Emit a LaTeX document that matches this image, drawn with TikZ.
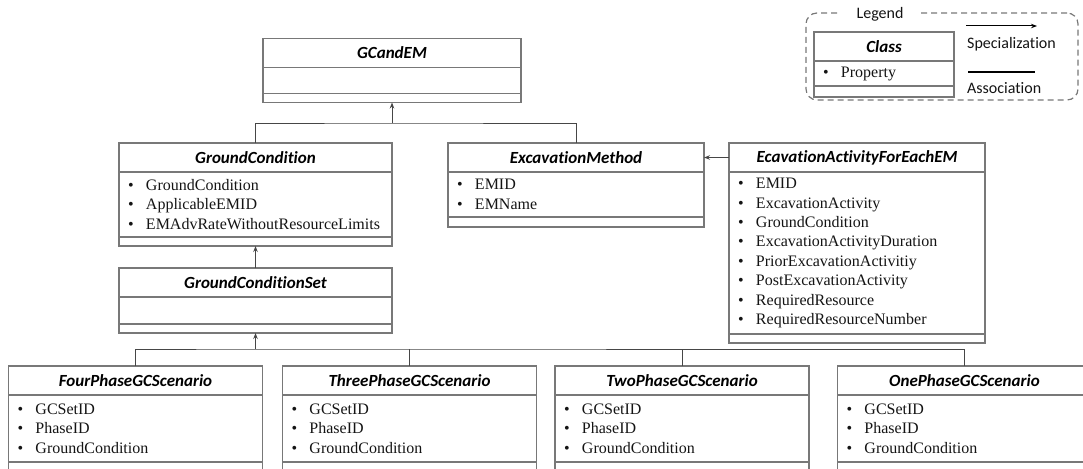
\documentclass[tikz,border=0pt]{standalone}
\usepackage{fontspec}
\setmainfont{Liberation Serif}
\newfontfamily\hdrfont[Ligatures=NoCommon]{Carlito}
\usepackage{xcolor}
\usetikzlibrary{arrows.meta,positioning}
\definecolor{boxgray}{RGB}{120,120,120}
\definecolor{linegray}{RGB}{70,70,70}
\definecolor{txtgray}{RGB}{20,20,20}
\newcommand{\prop}[1]{\makebox[18pt][l]{\textbullet}#1}
\tikzset{
  box/.style={draw=boxgray,line width=1.4pt,outer sep=0pt,inner sep=0pt},
  hdr/.style={box,minimum height=29pt,text=black,font=\hdrfont\bfseries\itshape\fontsize{17}{20}\selectfont},
  body/.style={box,align=left,inner xsep=9pt,text=txtgray,font=\fontsize{16}{19.4}\selectfont},
  foot/.style={box},
  conn/.style={draw=linegray,line width=1pt},
  spec/.style={conn,-{Stealth[length=6pt,width=4.5pt]}},
  lgdtxt/.style={inner sep=1pt,text=txtgray,font=\hdrfont\fontsize{16}{19}\selectfont}
}
\begin{document}
\begin{tikzpicture}[x=1pt,y=-1pt]
\useasboundingbox (0,0) rectangle (1083,468);
\clip (0,0) rectangle (1083,468);
% legend
\node[draw=boxgray,dashed,dash pattern=on 6pt off 4pt,line width=1.2pt,rounded corners=11pt,minimum width=272pt,minimum height=87pt,inner sep=0pt] (lgdframe) at (942,56.5) {};
\node[lgdtxt,fill=white,inner xsep=16pt] (lgd) at (880,14) {Legend};
\node[hdr,minimum width=140pt] (clsH) at (884,46.5) {Class};
\node[body,text width=122pt,minimum height=25pt,below=0pt of clsH] (clsB) {\prop{Property}};
\node[foot,minimum width=140pt,minimum height=11pt,below=0pt of clsB] (clsF) {};
\coordinate (s1) at (966,26);
\coordinate (s2) at (1037,26);
\draw[spec,draw=black] (s1) -- (s2);
\node[lgdtxt,anchor=west] (spectxt) at (966,44) {Specialization};
\coordinate (a1) at (968,72);
\coordinate (a2) at (1035,72);
\draw[black,line width=2.2pt] (a1) -- (a2);
\node[lgdtxt,anchor=west] (asstxt) at (966,88) {Association};
% classes
\node[hdr,minimum width=258pt] (gcemH) at (392,53) {GCandEM};
\node[body,text width=240pt,minimum height=26pt,below=0pt of gcemH] (gcemB) {};
\node[foot,minimum width=258pt,minimum height=9pt,below=0pt of gcemB] (gcemF) {};

\node[hdr,minimum width=273pt] (gcH) at (255.5,157.5) {GroundCondition};
\node[body,text width=255pt,minimum height=65pt,below=0pt of gcH] (gcB) {\prop{GroundCondition}\\\prop{ApplicableEMID}\\\prop{EMAdvRateWithoutResourceLimits}};
\node[foot,minimum width=273pt,minimum height=9pt,below=0pt of gcB] (gcF) {};

\node[hdr,minimum width=256pt] (emH) at (576,157.5) {ExcavationMethod};
\node[body,text width=238pt,minimum height=45pt,below=0pt of emH] (emB) {\prop{EMID}\\\prop{EMName}};
\node[foot,minimum width=256pt,minimum height=10pt,below=0pt of emB] (emF) {};

\node[hdr,minimum width=256pt] (eafH) at (857,157.5) {EcavationActivityForEachEM};
\node[body,text width=238pt,minimum height=162pt,below=0pt of eafH] (eafB) {\prop{EMID}\\\prop{ExcavationActivity}\\\prop{GroundCondition}\\\prop{ExcavationActivityDuration}\\\prop{PriorExcavationActivitiy}\\\prop{PostExcavationActivity}\\\prop{RequiredResource}\\\prop{RequiredResourceNumber}};
\node[foot,minimum width=256pt,minimum height=9pt,below=0pt of eafB] (eafF) {};

\node[hdr,minimum width=273pt] (gcsH) at (255.5,282.5) {GroundConditionSet};
\node[body,text width=255pt,minimum height=27pt,below=0pt of gcsH] (gcsB) {};
\node[foot,minimum width=273pt,minimum height=9pt,below=0pt of gcsB] (gcsF) {};

\foreach \n/\t/\x in {four/FourPhaseGCScenario/135.5,three/ThreePhaseGCScenario/409.5,two/TwoPhaseGCScenario/682,one/OnePhaseGCScenario/964.5}{
  \node[hdr,minimum width=254pt] (\n H) at (\x,380.5) {\t};
  \node[body,text width=236pt,minimum height=67pt,below=0pt of \n H] (\n B) {\prop{GCSetID}\\\prop{PhaseID}\\\prop{GroundCondition}};
  \node[foot,minimum width=254pt,minimum height=14pt,below=0pt of \n B] (\n F) {};
}
% connectors
\coordinate (j1) at (392,123);
\draw[conn] (gcH.north) |- (j1) -| (emH.north);
\draw[spec] (j1) -- (gcemF.south);
\draw[spec] (eafH.west) -- (emH.east);
\draw[spec] (gcsH.north) -- (gcF.south);
\coordinate (j2) at (255.5,349);
\draw[conn] (fourH.north) |- (j2) -| (oneH.north);
\draw[conn] (threeH.north) -- (threeH.north |- j2);
\draw[conn] (twoH.north) -- (twoH.north |- j2);
\draw[spec] (j2) -- (gcsF.south);
\end{tikzpicture}
\end{document}
